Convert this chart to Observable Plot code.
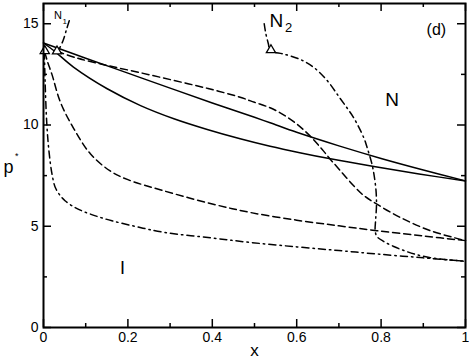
<!DOCTYPE html>
<html>
<head>
<meta charset="utf-8">
<script src="https://cdn.jsdelivr.net/npm/d3@7"></script>
<script src="https://cdn.jsdelivr.net/npm/@observablehq/plot@0.6"></script>
<style>
  html, body { margin: 0; padding: 0; background: white; }
</style>
</head>
<body>
<div id="chart"></div>
<script>
// ---- data ----
const xMajorTicks = [0, 0.2, 0.4, 0.6, 0.8, 1];
const xTickLabels = ["0", "0.2", "0.4", "0.6", "0.8", "1"];
const xMinorTicks = [0.1, 0.3, 0.5, 0.7, 0.9];
const yMajorTicks = [0, 5, 10, 15];
const yTickLabels = ["0", "5", "10", "15"];
const yMinorTicks = [2.5, 7.5, 12.5];

// solid curves
const solidUpper = [[0,14.05],[0.1,13.3],[0.2,12.56],[0.3,11.82],[0.4,11.09],[0.5,10.38],[0.537,10.11],[0.6,9.64],[0.7,8.97],[0.8,8.35],[0.9,7.78],[1,7.24]];
const solidLower = [[0,14.05],[0.024,13.68],[0.071,12.86],[0.151,11.79],[0.23,10.96],[0.309,10.31],[0.388,9.78],[0.466,9.32],[0.537,8.95],[0.61,8.62],[0.68,8.33],[0.783,7.95],[0.89,7.58],[1,7.24]];
// dashed curves
const dashedUpper = [[0.032,13.64],[0.08,13.3],[0.151,12.94],[0.23,12.58],[0.309,12.2],[0.39,11.8],[0.466,11.37],[0.5,11.12],[0.537,10.85],[0.569,10.5],[0.6,10.05],[0.632,9.45],[0.66,8.8],[0.68,8.3],[0.704,7.73],[0.735,7.0],[0.76,6.5],[0.79,6.09],[0.846,5.43],[0.917,4.78],[1.0,4.29]];
const dashedLower = [[0.003,13.6],[0.01,13.1],[0.02,12.5],[0.04,11.13],[0.072,9.81],[0.111,8.58],[0.158,7.73],[0.2,7.3],[0.285,6.75],[0.4,6.1],[0.49,5.68],[0.6,5.3],[0.7,5.02],[0.79,4.78],[0.9,4.52],[1,4.29]];
// dash-dot curves
const dashDotLower = [[0.002,13.6],[0.004,12],[0.008,10],[0.013,8.7],[0.02,7.6],[0.028,6.91],[0.04,6.5],[0.051,6.26],[0.07,5.98],[0.091,5.76],[0.125,5.5],[0.162,5.27],[0.22,4.98],[0.285,4.7],[0.4,4.42],[0.49,4.2],[0.6,3.98],[0.7,3.8],[0.79,3.63],[0.9,3.44],[1,3.27]];
const dashDotN1 = [[0.061,15.15],[0.055,14.75],[0.046,14.15],[0.034,13.62]];
const dashDotN2 = [[0.523,15.0],[0.527,14.5],[0.533,14.0],[0.537,13.68],[0.57,13.5],[0.609,13.23],[0.64,12.85],[0.672,12.2],[0.7,11.4],[0.719,10.85],[0.735,10.36],[0.759,9.37],[0.767,8.88],[0.778,8.1],[0.783,7.57],[0.788,6.75],[0.789,6.0],[0.787,5.3],[0.786,4.78],[0.79,4.5],[0.806,4.25],[0.83,4.0],[0.854,3.8],[0.88,3.62],[0.917,3.45],[0.96,3.34],[1,3.27]];
// triangle markers
const triangleX = [0.003, 0.032, 0.539];
const triangleY = [13.66, 13.64, 13.7];

// annotation labels
const labelText = ["N", "(d)", "N", "I"];
const labelX = [0.552, 0.931, 0.826, 0.187];
const labelY = [15.16, 14.69, 11.26, 2.91];
const labelSize = [19, 16, 19, 18];
const subLabelText = ["N", "1", "2"];
const subLabelX = [0.034, 0.05, 0.581];
const subLabelY = [15.42, 15.1, 14.8];
const subLabelSize = [11, 8, 13];

// ---- chart ----
const mL = 43, mR = 4, mT = 3, mB = 33, W = 469, H = 360;
const plotW = W - mL - mR, plotH = H - mT - mB;
const pts = a => a.map(([x, y]) => ({x, y}));
const lw = 1.5;
const dash = "7,4";
const dashdot = "7,4,1.5,4";

const chart = Plot.plot({
  width: W, height: H,
  marginLeft: mL, marginRight: mR, marginTop: mT, marginBottom: mB,
  style: {fontFamily: "'Liberation Sans', Arial, Helvetica, sans-serif", background: "white", color: "black", overflow: "visible"},
  x: {domain: [0, 1]},
  y: {domain: [0, 16]},
  marks: [
    // tick labels
    Plot.axisX(xMajorTicks, {tickSize: 0, tickPadding: 5, fontSize: 14, tickFormat: d => xTickLabels[xMajorTicks.indexOf(d)], label: null}),
    Plot.axisY(yMajorTicks, {tickSize: 0, tickPadding: 5, fontSize: 14, tickFormat: d => yTickLabels[yMajorTicks.indexOf(d)], label: null}),
    // inward ticks on all sides
    Plot.tickX(xMajorTicks, {x: d => d, insetTop: plotH - 8, strokeWidth: 1.5}),
    Plot.tickX(xMajorTicks, {x: d => d, insetBottom: plotH - 8, strokeWidth: 1.5}),
    Plot.tickX(xMinorTicks, {x: d => d, insetTop: plotH - 4, strokeWidth: 1.5}),
    Plot.tickX(xMinorTicks, {x: d => d, insetBottom: plotH - 4, strokeWidth: 1.5}),
    Plot.tickY(yMajorTicks, {y: d => d, insetRight: plotW - 8, strokeWidth: 1.5}),
    Plot.tickY(yMajorTicks, {y: d => d, insetLeft: plotW - 8, strokeWidth: 1.5}),
    Plot.tickY(yMinorTicks, {y: d => d, insetRight: plotW - 4, strokeWidth: 1.5}),
    Plot.tickY(yMinorTicks, {y: d => d, insetLeft: plotW - 4, strokeWidth: 1.5}),
    // curves
    Plot.line(pts(solidUpper), {x: "x", y: "y", stroke: "black", strokeWidth: lw, curve: "catmull-rom"}),
    Plot.line(pts(solidLower), {x: "x", y: "y", stroke: "black", strokeWidth: lw, curve: "catmull-rom"}),
    Plot.line(pts(dashedUpper), {x: "x", y: "y", stroke: "black", strokeWidth: lw, strokeDasharray: dash, curve: "catmull-rom"}),
    Plot.line(pts(dashedLower), {x: "x", y: "y", stroke: "black", strokeWidth: lw, strokeDasharray: dash, curve: "catmull-rom"}),
    Plot.line(pts(dashDotLower), {x: "x", y: "y", stroke: "black", strokeWidth: lw, strokeDasharray: dashdot, curve: "catmull-rom"}),
    Plot.line(pts(dashDotN1), {x: "x", y: "y", stroke: "black", strokeWidth: lw, strokeDasharray: dashdot, curve: "catmull-rom"}),
    Plot.line(pts(dashDotN2), {x: "x", y: "y", stroke: "black", strokeWidth: lw, strokeDasharray: dashdot, curve: "catmull-rom"}),
    // triangles
    Plot.dot(triangleX.map((x, i) => ({x, y: triangleY[i]})), {x: "x", y: "y", symbol: "triangle", r: 3.4, stroke: "black", strokeWidth: 1.3, fill: "white"}),
    // labels
    Plot.text(labelText.map((t, i) => ({t, x: labelX[i], y: labelY[i], s: labelSize[i]})), {x: "x", y: "y", text: "t", fontSize: d => d.s, fill: "black"}),
    Plot.text(subLabelText.map((t, i) => ({t, x: subLabelX[i], y: subLabelY[i], s: subLabelSize[i]})), {x: "x", y: "y", text: "t", fontSize: d => d.s, fill: "black"}),
    // axis titles
    Plot.text(["x"], {frameAnchor: "bottom", dy: 28, fontSize: 17, fill: "black"}),
    Plot.text(["p"], {frameAnchor: "left", dx: -40, dy: 1.5, textAnchor: "start", fontSize: 18, fill: "black"}),
    Plot.text(["*"], {frameAnchor: "left", dx: -28.5, dy: -9, fontSize: 9, fill: "black"}),
    Plot.frame({stroke: "black", strokeWidth: 2})
  ]
});
document.getElementById("chart").appendChild(chart);
</script>
</body>
</html>
